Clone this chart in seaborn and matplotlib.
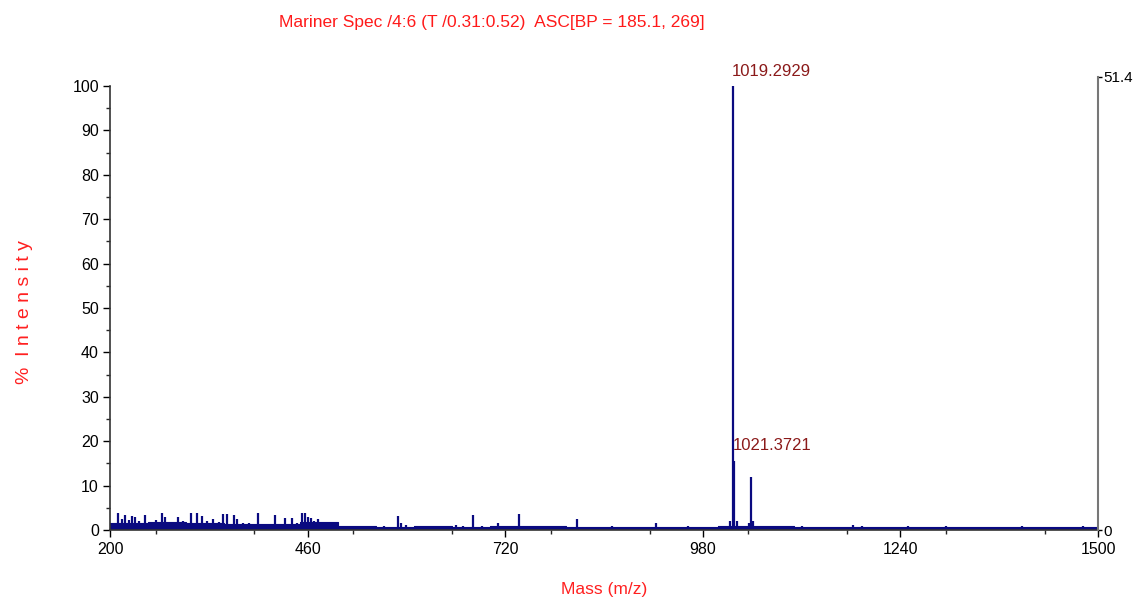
import matplotlib
matplotlib.use("Agg")
import matplotlib.pyplot as plt
import seaborn as sns
import numpy as np
import pandas as pd
from matplotlib.ticker import MultipleLocator

# ---- data ----
title = "Mariner Spec /4:6 (T /0.31:0.52)  ASC[BP = 185.1, 269]"
peak_mass = [211, 216, 220, 225, 229, 233, 238, 246, 252, 260, 268, 273, 280, 290, 296,
             306, 314, 321, 328, 336, 343, 349, 354, 363, 367, 375, 383, 395, 402, 410,
             417, 422, 430, 439, 446, 452, 456, 460, 464, 468, 474, 480, 500, 540, 560,
             579, 583, 590, 610, 640, 655, 665, 678, 690, 710, 738, 760, 790, 815, 860,
             918, 960, 1016, 1019.2929, 1021.3721, 1025, 1041, 1043, 1046, 1090, 1110,
             1178, 1190, 1250, 1300, 1400, 1480]
peak_int = [3.8, 2.5, 3.3, 2.2, 3.2, 3.0, 2.0, 3.3, 1.8, 2.2, 3.8, 3.0, 1.8, 3.0, 2.0,
            3.8, 3.8, 3.2, 2.0, 2.4, 1.8, 3.6, 3.6, 3.3, 2.4, 1.6, 1.5, 3.8, 1.4, 1.3,
            3.3, 1.4, 2.8, 2.8, 1.6, 3.8, 3.8, 3.0, 2.6, 2.0, 2.5, 1.0, 0.9, 0.9, 0.8,
            3.2, 1.6, 1.2, 1.0, 0.9, 1.2, 1.0, 3.3, 1.0, 1.5, 3.5, 1.0, 1.0, 2.5, 1.0,
            1.6, 1.0, 2.0, 100.0, 15.5, 2.0, 1.5, 12.0, 2.0, 1.0, 1.0,
            1.2, 0.9, 0.9, 0.8, 0.8, 0.8]
base_edges = [200, 250, 300, 350, 400, 450, 500, 550, 600, 650, 700, 750, 800, 850, 900,
              950, 1000, 1050, 1100, 1150, 1200, 1250, 1300, 1350, 1400, 1450, 1500]
base_level = [1.6, 1.7, 1.5, 1.4, 1.3, 1.8, 0.8, 0.7, 0.8, 0.7, 0.8, 0.8, 0.7, 0.7, 0.7,
              0.7, 1.0, 1.0, 0.7, 0.7, 0.7, 0.6, 0.6, 0.6, 0.6, 0.6, 0.6]
labels = [(1019.2929, "1019.2929", 100.0), (1021.3721, "1021.3721", 15.5)]
x_ticks = [200, 460, 720, 980, 1240, 1500]
y_ticks = [0, 10, 20, 30, 40, 50, 60, 70, 80, 90, 100]
right_ticks = [0, 51.4]

sns.set_style("ticks")
plt.rcParams['font.family'] = ['Liberation Sans', 'DejaVu Sans']

W, H = 1137, 605
fig = plt.figure(figsize=(W / 100, H / 100), dpi=100)
ax = fig.add_axes([110 / W, 1 - 530 / H, (1098 - 110) / W, (530 - 77) / H])

navy = '#0a0a80'
# baseline band
bdf = pd.DataFrame({"mass": base_edges, "level": base_level})
ax.fill_between(bdf["mass"], 0, bdf["level"], step="post", color=navy, lw=0)
sns.lineplot(data=bdf, x="mass", y="level", drawstyle="steps-post", color=navy, lw=0.8, ax=ax)
# sticks
ax.vlines(peak_mass, 0, peak_int, color=navy, lw=1.6)

ax.set_xlim(200, 1500)
ax.set_ylim(0, 102)
ax.set_xticks(x_ticks)
ax.xaxis.set_minor_locator(MultipleLocator(130))
ax.set_yticks(y_ticks)
ax.yaxis.set_minor_locator(MultipleLocator(5))
ax.tick_params(axis='both', which='major', labelsize=11.5, length=5, width=1, colors='black', direction='out')
ax.tick_params(axis='y', which='major', pad=3)
ax.tick_params(axis='both', which='minor', length=3, width=1, direction='out')
ax.spines['top'].set_visible(False)
ax.spines['right'].set_visible(False)
ax.spines['left'].set_bounds(0, 100)
for s in ('left', 'bottom'):
    ax.spines[s].set_color('#333333')
    ax.spines[s].set_linewidth(1.2)

ax2 = ax.twinx()
ax2.set_ylim(0, 51.4)
ax2.set_yticks(right_ticks)
ax2.set_yticklabels(["0", "51.4"])
for s in ('left', 'top', 'bottom'):
    ax2.spines[s].set_visible(False)
ax2.spines['right'].set_color('#777777')
ax2.spines['right'].set_linewidth(1.5)
ax2.tick_params(axis='y', labelsize=11, length=3, width=1, colors='black', pad=1)

for m, txt, v in labels:
    ax.annotate(txt, xy=(m, v), xytext=(-1, 5 if v > 50 else 6), textcoords='offset points',
                ha='left', va='bottom', color='#8b1a1a', fontsize=12)

ax.set_xlabel("Mass (m/z)", color='#ff2020', fontsize=12.5, labelpad=18)
ax.set_ylabel("%  I n t e n s i t y", color='#ff2020', fontsize=14)
ax.yaxis.set_label_coords(-0.078, 0.48)
fig.text(492 / W, 1 - 22 / H, title, color='#ff1a1a', fontsize=12.5, ha='center', va='center')

fig.savefig("out.png", dpi=100)
